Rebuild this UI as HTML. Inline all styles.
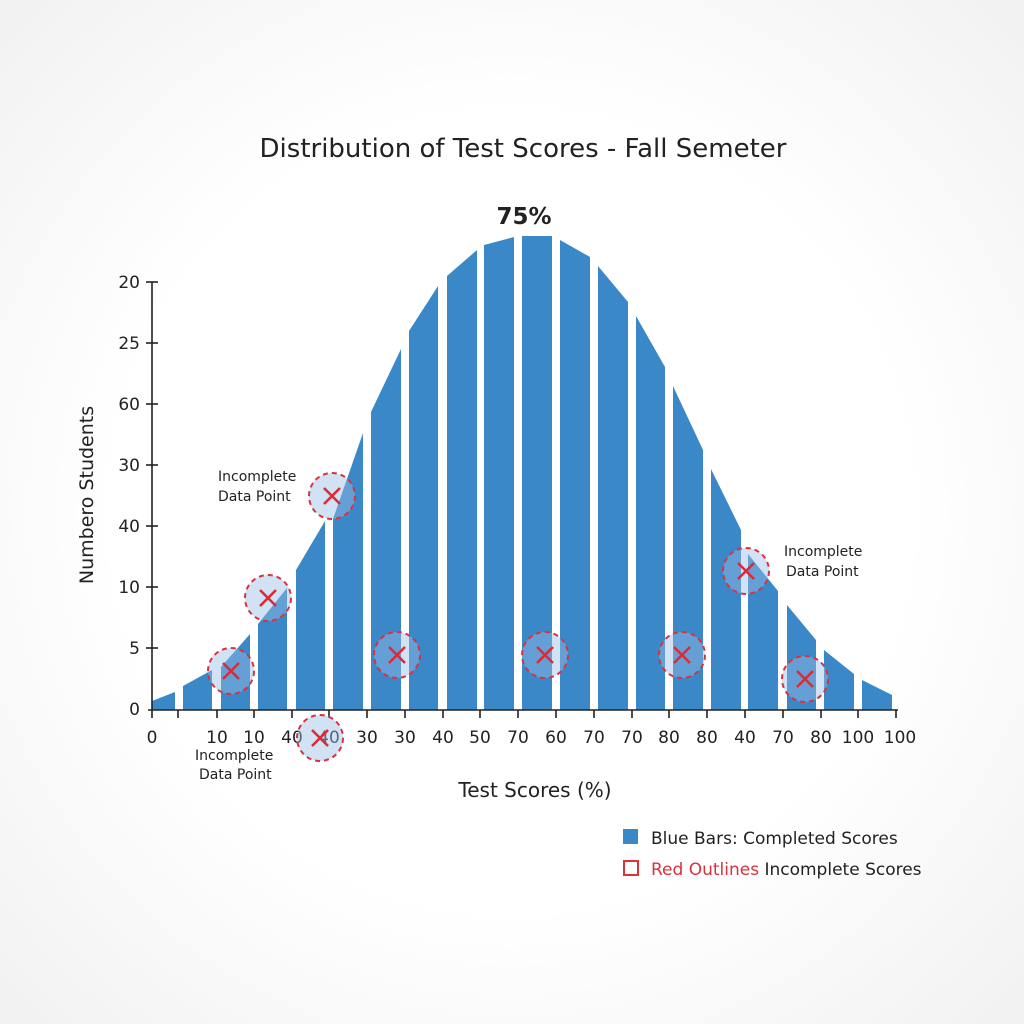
<!DOCTYPE html>
<html><head><meta charset="utf-8"><style>
html,body{margin:0;padding:0;width:1024px;height:1024px;overflow:hidden}
body{background:radial-gradient(ellipse at 50% 50%,#ffffff 55%,#f1f1f1 100%)}
svg{display:block}
text{font-family:"DejaVu Sans","Liberation Sans",sans-serif}
</style></head><body>
<svg width="1024" height="1024" viewBox="0 0 1024 1024" xmlns="http://www.w3.org/2000/svg">
<text x="523" y="157" font-size="26" text-anchor="middle" fill="#222">Distribution of Test Scores - Fall Semeter</text>
<text x="524" y="224" font-size="23" font-weight="bold" text-anchor="middle" fill="#222">75%</text>
<g fill="#3b88c9">
<polygon points="152,701 175,692 175,710 152,710"/>
<polygon points="183,686 212,670 212,710 183,710"/>
<polygon points="221,667 250,634 250,710 221,710"/>
<polygon points="258,624 287,588 287,710 258,710"/>
<polygon points="296,570 325,521 325,710 296,710"/>
<polygon points="333,519 363,433 363,710 333,710"/>
<polygon points="371,412 401,349 401,710 371,710"/>
<polygon points="409,331 438,286 438,710 409,710"/>
<polygon points="447,276 477,250 477,710 447,710"/>
<polygon points="484,245 514,237 514,710 484,710"/>
<polygon points="522,236 552,236 552,710 522,710"/>
<polygon points="560,240 590,257 590,710 560,710"/>
<polygon points="598,266 628,302 628,710 598,710"/>
<polygon points="636,316 665,367 665,710 636,710"/>
<polygon points="673,386 703,450 703,710 673,710"/>
<polygon points="711,469 741,530 741,710 711,710"/>
<polygon points="748,554 778,591 778,710 748,710"/>
<polygon points="787,605 816,640 816,710 787,710"/>
<polygon points="824,650 854,674 854,710 824,710"/>
<polygon points="862,680 892,695 892,710 862,710"/>
</g>
<g stroke="#222" stroke-width="1.6" fill="none">
<line x1="152" y1="282" x2="152" y2="718"/>
<line x1="148" y1="710" x2="898" y2="710"/>
<line x1="146" y1="282" x2="158" y2="282"/>
<line x1="146" y1="343" x2="158" y2="343"/>
<line x1="146" y1="404" x2="158" y2="404"/>
<line x1="146" y1="465" x2="158" y2="465"/>
<line x1="146" y1="526" x2="158" y2="526"/>
<line x1="146" y1="587" x2="158" y2="587"/>
<line x1="146" y1="648" x2="158" y2="648"/>
<path d="M178,710v8M217,710v8M254,710v8M292,710v8M329,710v8M367,710v8M405,710v8M443,710v8M480,710v8M518,710v8M556,710v8M594,710v8M632,710v8M669,710v8M707,710v8M745,710v8M783,710v8M821,710v8M858,710v8M896,710v8"/>
</g>
<g font-size="17" fill="#222" text-anchor="end">
<text x="140" y="288">20</text><text x="140" y="349">25</text><text x="140" y="410">60</text>
<text x="140" y="471">30</text><text x="140" y="532">40</text><text x="140" y="593">10</text>
<text x="140" y="654">5</text><text x="140" y="715">0</text>
</g>
<g font-size="17" fill="#222" text-anchor="middle">
<text x="152" y="743">0</text><text x="217" y="743">10</text><text x="254" y="743">10</text>
<text x="292" y="743">40</text><text x="329" y="743">40</text><text x="367" y="743">30</text>
<text x="405" y="743">30</text><text x="443" y="743">40</text><text x="480" y="743">50</text>
<text x="518" y="743">70</text><text x="556" y="743">60</text><text x="594" y="743">70</text>
<text x="632" y="743">70</text><text x="669" y="743">80</text><text x="707" y="743">80</text>
<text x="745" y="743">40</text><text x="783" y="743">70</text><text x="821" y="743">80</text>
<text x="858" y="743">100</text><text x="900" y="743">100</text>
</g>
<text transform="translate(93,495) rotate(-90)" font-size="19" text-anchor="middle" fill="#222">Numbero Students</text>
<text x="535" y="797" font-size="20" text-anchor="middle" fill="#222">Test Scores (%)</text>
<g fill="rgba(150,190,230,0.45)" stroke="#d9323c" stroke-width="2" stroke-dasharray="5,4">
<circle cx="231" cy="671" r="23"/><circle cx="268" cy="598" r="23"/><circle cx="332" cy="496" r="23"/>
<circle cx="397" cy="655" r="23"/><circle cx="320" cy="738" r="23"/><circle cx="545" cy="655" r="23"/>
<circle cx="682" cy="655" r="23"/><circle cx="746" cy="571" r="23"/><circle cx="805" cy="679" r="23"/>
</g>
<g stroke="#dd2a36" stroke-width="2.6">
<path d="M223,663l16,16M239,663l-16,16"/><path d="M260,590l16,16M276,590l-16,16"/>
<path d="M324,488l16,16M340,488l-16,16"/><path d="M389,647l16,16M405,647l-16,16"/>
<path d="M312,730l16,16M328,730l-16,16"/><path d="M537,647l16,16M553,647l-16,16"/>
<path d="M674,647l16,16M690,647l-16,16"/><path d="M738,563l16,16M754,563l-16,16"/>
<path d="M797,671l16,16M813,671l-16,16"/>
</g>
<g font-size="14" fill="#222">
<text x="218" y="481">Incomplete</text><text x="218" y="501">Data Point</text>
<text x="784" y="556">Incomplete</text><text x="786" y="576">Data Point</text>
<text x="195" y="760">Incomplete</text><text x="199" y="779">Data Point</text>
</g>
<rect x="623" y="829" width="15" height="15" fill="#3b88c9"/>
<text x="651" y="844" font-size="17" fill="#222">Blue Bars: Completed Scores</text>
<rect x="624" y="861" width="14" height="14" fill="none" stroke="#d9323c" stroke-width="2"/>
<text x="651" y="875" font-size="17" fill="#222"><tspan fill="#d9323c">Red Outlines</tspan> Incomplete Scores</text>
</svg>
</body></html>
